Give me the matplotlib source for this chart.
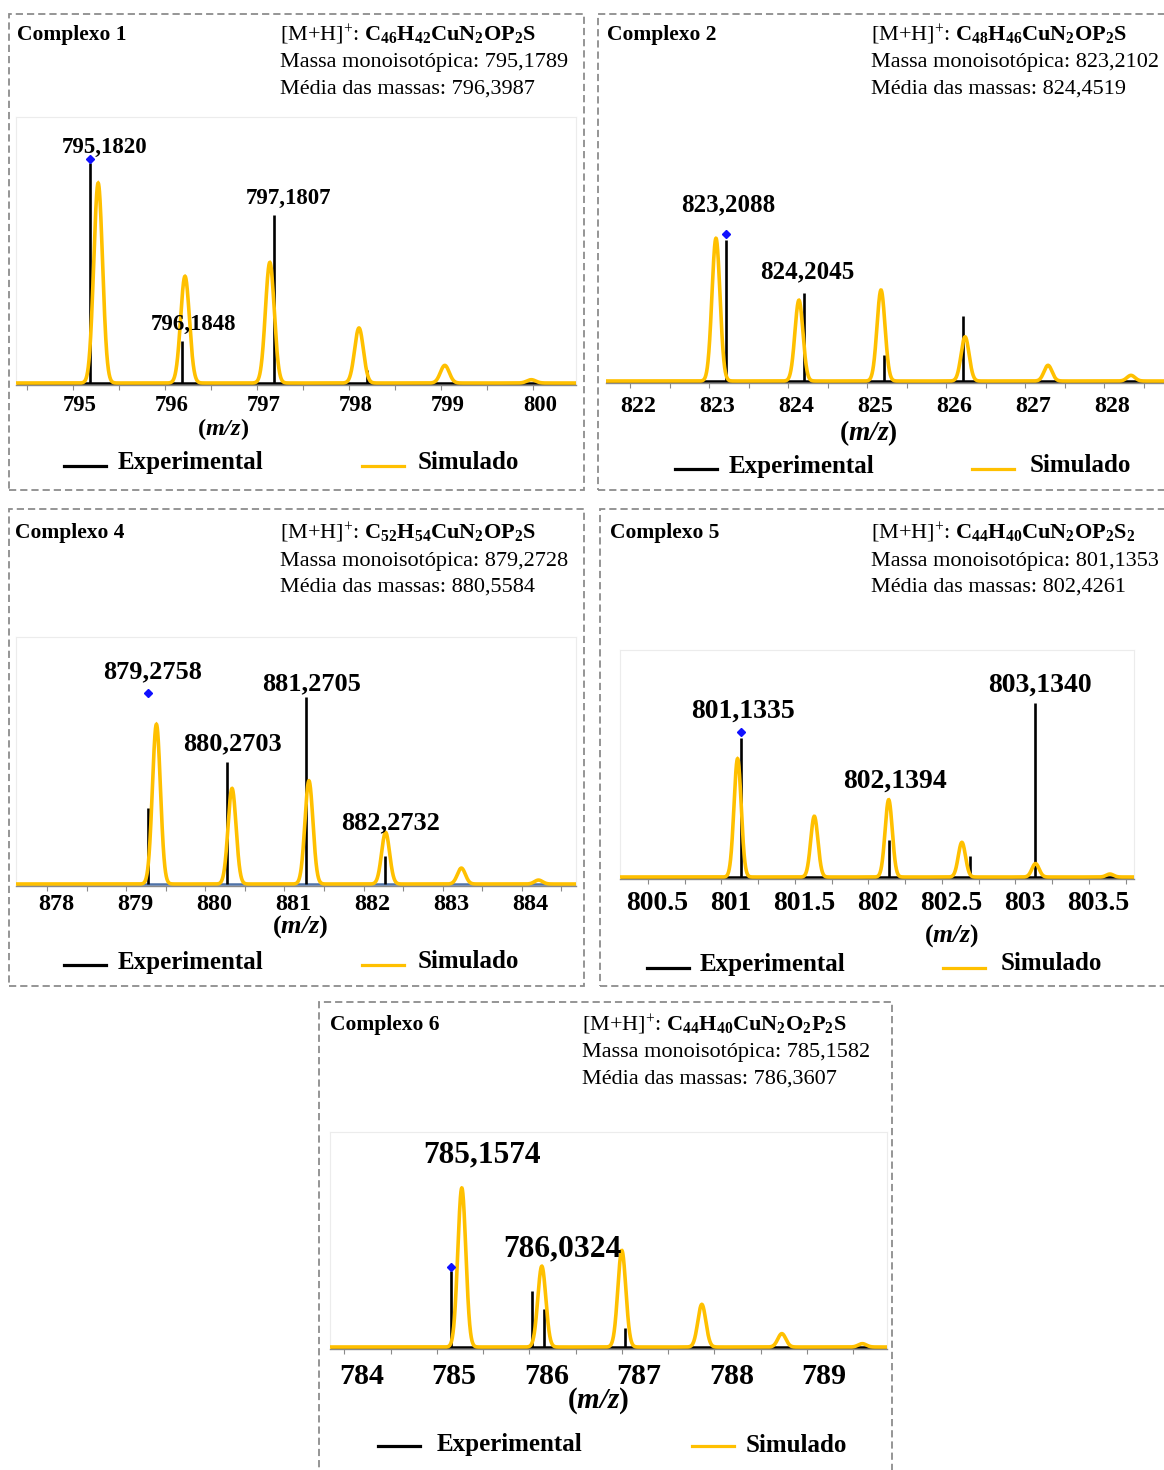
import numpy as np
import matplotlib
matplotlib.use("Agg")
import matplotlib.pyplot as plt
from matplotlib.patches import Rectangle
from matplotlib.lines import Line2D

plt.rcParams['font.family'] = ['Liberation Serif', 'DejaVu Serif']
plt.rcParams['mathtext.fontset'] = 'custom'
plt.rcParams['mathtext.rm'] = 'Liberation Serif'
plt.rcParams['mathtext.bf'] = 'Liberation Serif:bold'
plt.rcParams['mathtext.it'] = 'Liberation Serif:italic'
try:
    plt.rcParams['mathtext.bfit'] = 'Liberation Serif:italic:bold'
except KeyError:
    pass

# ---------------------------------------------------------------- data
TITLES = ["Complexo 1", "Complexo 2", "Complexo 4", "Complexo 5", "Complexo 6"]
FORMULAS = [r"C_{46}H_{42}CuN_{2}OP_{2}S", r"C_{48}H_{46}CuN_{2}OP_{2}S",
            r"C_{52}H_{54}CuN_{2}OP_{2}S", r"C_{44}H_{40}CuN_{2}OP_{2}S_{2}",
            r"C_{44}H_{40}CuN_{2}O_{2}P_{2}S"]
MONO_MASS = ["795,1789", "823,2102", "879,2728", "801,1353", "785,1582"]
AVG_MASS = ["796,3987", "824,4519", "880,5584", "802,4261", "786,3607"]

# experimental centroids (m/z, relative intensity)
EXP1_MZ = [795.1820, 796.1848, 797.1807, 798.19]
EXP1_INT = [100, 18.9, 76.2, 5.9]
EXP2_MZ = [823.2088, 824.2045, 825.208, 826.22]
EXP2_INT = [100, 62.1, 18.2, 46.2]
EXP4_MZ = [879.2758, 880.2703, 881.2705, 882.2732]
EXP4_INT = [40.9, 65.5, 100, 15.1]
EXP5_MZ = [801.1335, 802.1394, 802.69, 803.1340]
EXP5_INT = [79.9, 21.5, 12.3, 100]
EXP6_MZ = [785.1574, 786.0324, 786.154, 787.03]
EXP6_INT = [47.5, 35.1, 24.1, 12]

# simulated isotope pattern (m/z, relative intensity)
SIM1_MZ = [795.272, 796.216, 797.138, 798.107, 799.04, 799.98]
SIM1_INT = [90.9, 48.5, 54.8, 25.0, 8.0, 1.5]
SIM2_MZ = [823.087, 824.137, 825.176, 826.24, 827.29, 828.34]
SIM2_INT = [101.2, 57.3, 64.5, 31.3, 11.1, 4.0]
SIM4_MZ = [879.381, 880.337, 881.309, 882.278, 883.236, 884.211]
SIM4_INT = [85.4, 51.1, 55.2, 27.6, 8.5, 2.1]
SIM5_MZ = [801.11, 801.632, 802.138, 802.636, 803.137, 803.643]
SIM5_INT = [68.0, 34.9, 44.4, 19.9, 7.7, 1.7]
SIM6_MZ = [785.27, 786.135, 787.0, 787.865, 788.73, 789.60]
SIM6_INT = [100, 50.8, 60.7, 26.8, 8.4, 2.1]

# monoisotopic marker (m/z, intensity)
MONO1 = (795.1820, 102.0)
MONO2 = (823.2088, 104.3)
MONO4 = (879.2758, 102.3)
MONO5 = (801.1335, 83.3)
MONO6 = (785.1574, 50.2)

# annotated experimental peaks
LABEL1_MZ = [795.1820, 796.1848, 797.1807]
LABEL2_MZ = [823.2088, 824.2045]
LABEL4_MZ = [879.2758, 880.2703, 881.2705, 882.2732]
LABEL5_MZ = [801.1335, 802.1394, 803.1340]
LABEL6_MZ = [785.1574, 786.0324]

# axis tick values
TICKS1 = [795, 796, 797, 798, 799, 800]
TICKS2 = [822, 823, 824, 825, 826, 827, 828]
TICKS4 = [878, 879, 880, 881, 882, 883, 884]
TICKS5 = [800.5, 801, 801.5, 802, 802.5, 803, 803.5]
TICKS6 = [784, 785, 786, 787, 788, 789]

# ---------------------------------------------------------------- layout
W, H = 1164, 1470
fig = plt.figure(figsize=(W / 100, H / 100), dpi=100)
PX2PT = 0.72
GOLD = "#FFC000"


def fx(x):
    return x / W


def fy(y):
    return 1 - y / H


def ftext(x, y, s, fs, **kw):
    fig.text(fx(x), fy(y), s, fontsize=fs, va='baseline', **kw)


PANELS = [
    dict(box=(9, 14, 584, 490), title=(17, 40), info=(280, 41), ax=(16, 576, 117, 383),
         xlim=(794.379, 800.466), px100=220, ticks=TICKS1, minor=0.5, tick_fs=16.3, tick_dx=7,
         tick_dy=18, fmt="{:g}", lab_fs=16.5, lab_pos=[(15, 145), (11, 322), (15, 196)],
         xlabel=(223, 428, 17.5), leg=(466, 461, 64, 118, 362, 418), sigma_px=4.4,
         frame=True, base_color='black',
         exp=(EXP1_MZ, EXP1_INT), sim=(SIM1_MZ, SIM1_INT), mono=MONO1, labels=LABEL1_MZ),
    dict(box=(598, 14, 1170, 490), title=(607, 40), info=(871, 41), ax=(606, 1164, 120, 381),
         xlim=(821.695, 828.758), px100=141, ticks=TICKS2, minor=0.5, tick_fs=17.3, tick_dx=8,
         tick_dy=21, fmt="{:g}", lab_fs=18, lab_pos=[(3, 203), (3, 270)],
         xlabel=(868, 433, 19.8), leg=(469, 464, 675, 729, 972, 1030), sigma_px=4.0,
         frame=False, base_color='black',
         exp=(EXP2_MZ, EXP2_INT), sim=(SIM2_MZ, SIM2_INT), mono=MONO2, labels=LABEL2_MZ),
    dict(box=(9, 509, 584, 986), title=(15, 538), info=(280, 539), ax=(16, 576, 637, 884),
         xlim=(877.606, 884.685), px100=187, ticks=TICKS4, minor=0.5, tick_fs=17.5, tick_dx=9,
         tick_dy=16, fmt="{:g}", lab_fs=19, lab_pos=[(4, 669), (6, 741), (6, 681), (5, 820)],
         xlabel=(300, 925, 19), leg=(965, 960, 64, 118, 362, 418), sigma_px=4.0,
         frame=True, base_color='#4f73a8',
         exp=(EXP4_MZ, EXP4_INT), sim=(SIM4_MZ, SIM4_INT), mono=MONO4, labels=LABEL4_MZ),
    dict(box=(600, 509, 1170, 986), title=(610, 538), info=(871, 539), ax=(620, 1134, 650, 877),
         xlim=(800.310, 803.807), px100=174, ticks=TICKS5, minor=0.25, tick_fs=20, tick_dx=9,
         tick_dy=22, fmt="{:g}", lab_fs=20, lab_pos=[(2, 708), (6, 778), (5, 682)],
         xlabel=(952, 935, 18.5), leg=(968, 962, 647, 700, 943, 1001), sigma_px=3.6,
         frame=True, base_color='black',
         exp=(EXP5_MZ, EXP5_INT), sim=(SIM5_MZ, SIM5_INT), mono=MONO5, labels=LABEL5_MZ),
    dict(box=(319, 1002, 892, 1480), title=(330, 1030), info=(582, 1031), ax=(330, 887, 1132, 1347),
         xlim=(783.845, 789.867), px100=159, ticks=TICKS6, minor=0.5, tick_fs=21.6, tick_dx=17,
         tick_dy=25, fmt="{:g}", lab_fs=22.7, lab_pos=[(31, 1152), (30, 1246)],
         xlabel=(598, 1400, 21), leg=(1446, 1443, 378, 437, 692, 746), sigma_px=4.0,
         frame=True, base_color='black',
         exp=(EXP6_MZ, EXP6_INT), sim=(SIM6_MZ, SIM6_INT), mono=MONO6, labels=LABEL6_MZ),
]


def gaussian_pattern(grid, centers, heights, sigma):
    """Gaussian peak shape for the simulated isotope pattern."""
    y = np.zeros_like(grid)
    for c, h in zip(centers, heights):
        y += h * np.exp(-0.5 * ((grid - c) / sigma) ** 2)
    return y


for i, p in enumerate(PANELS):
    # dashed panel frame
    x0, y0, x1, y1 = p['box']
    fig.add_artist(Rectangle((fx(x0), fy(y1)), (x1 - x0) / W, (y1 - y0) / H,
                             transform=fig.transFigure, fill=False, ec='#8c8c8c',
                             lw=1.3, ls=(0, (4, 2.2)), zorder=0))

    # header text
    tx, tyb = p['title']
    ftext(tx, tyb, TITLES[i], 15.5, weight='bold')
    ix, iyb = p['info']
    ftext(ix, iyb, r"[M+H]$^{+}$: $\mathbf{" + FORMULAS[i] + "}$", 16)
    ftext(ix, iyb + 26.5, "Massa monoisotópica: " + MONO_MASS[i], 16)
    ftext(ix, iyb + 53, "Média das massas: " + AVG_MASS[i], 16)

    # spectrum axes
    left, right, top, base = p['ax']
    upp = 100.0 / p['px100']
    bottom_px = base + 2
    ax = fig.add_axes([fx(left), fy(bottom_px), (right - left) / W, (bottom_px - top) / H])
    ax.set_facecolor('none')
    ax.set_yticks([])
    for side in ('top', 'right', 'left'):
        ax.spines[side].set_color('#ececec' if p['frame'] else 'none')
        ax.spines[side].set_linewidth(0.8)
    ax.spines['bottom'].set_color('#8a8a8a')
    ax.spines['bottom'].set_linewidth(1.0)

    ticks = p['ticks']
    ax.set_xticks(ticks)
    ax.set_xticks(np.arange(ticks[0] - p['minor'], ticks[-1] + 2 * p['minor'], p['minor']),
                  minor=True)
    ax.tick_params(axis='x', which='both', direction='out', length=5 * PX2PT,
                   width=0.8, color='#8a8a8a', labelbottom=False)
    # limits are fixed after the ticks so the tick lists cannot widen them
    ax.set_xlim(*p['xlim'])
    ax.set_ylim(-2 * upp, (base - top) * upp)

    # tick labels, drawn bold and nudged to the right
    em = p['tick_fs'] / 0.72
    for t in ticks:
        ax.annotate(p['fmt'].format(t), xy=(t, 0), xycoords=('data', 'axes fraction'),
                    xytext=(p['tick_dx'] * PX2PT, -(p['tick_dy'] + 0.34 * em) * PX2PT),
                    textcoords='offset points', ha='center', va='baseline',
                    fontsize=p['tick_fs'], weight='bold', annotation_clip=False)

    # experimental spectrum
    emz, eint = p['exp']
    ax.axhline(0, color=p['base_color'], lw=1.8, zorder=2)
    ax.vlines(emz, 0, eint, color='black', lw=1.9, zorder=2)

    # simulated spectrum
    smz, sint = p['sim']
    grid = np.linspace(p['xlim'][0], p['xlim'][1], 4000)
    ppu = (right - left) / (p['xlim'][1] - p['xlim'][0])
    ax.plot(grid, gaussian_pattern(grid, smz, sint, p['sigma_px'] / ppu),
            color=GOLD, lw=2.6, zorder=3, solid_joinstyle='miter')

    # monoisotopic marker
    ax.plot([p['mono'][0]], [p['mono'][1]], marker='D', ms=3.6, color='#1010ff',
            mec='#1010ff', zorder=5, clip_on=False)

    # peak annotations
    lem = p['lab_fs'] / 0.72
    for mz, (dx, yc) in zip(p['labels'], p['lab_pos']):
        txt = "{:.4f}".format(mz).replace('.', ',')
        ax.annotate(txt, xy=(mz, 0), xycoords='data',
                    xytext=(dx * PX2PT, (base - yc - 0.34 * lem) * PX2PT),
                    textcoords='offset points', ha='center', va='baseline',
                    fontsize=p['lab_fs'], weight='bold', zorder=6, annotation_clip=False)

    # axis title
    lx, ly, lfs = p['xlabel']
    ftext(lx, ly + 0.27 * lfs / 0.72, r"($\mathbfit{m/z}$)", lfs, ha='center', weight='bold')

    # legend
    ly_line, ly_text, ex0, ext, sx0, sxt = p['leg']
    fig.add_artist(Line2D([fx(ex0), fx(ex0 + 42)], [fy(ly_line)] * 2,
                          transform=fig.transFigure, color='black', lw=2.3))
    fig.add_artist(Line2D([fx(sx0), fx(sx0 + 42)], [fy(ly_line)] * 2,
                          transform=fig.transFigure, color=GOLD, lw=2.3))
    ftext(ext, ly_text + 0.34 * 18 / 0.72, "Experimental", 18, weight='bold')
    ftext(sxt, ly_text + 0.34 * 18 / 0.72, "Simulado", 18, weight='bold')

fig.savefig("out.png", dpi=100, facecolor='white')
